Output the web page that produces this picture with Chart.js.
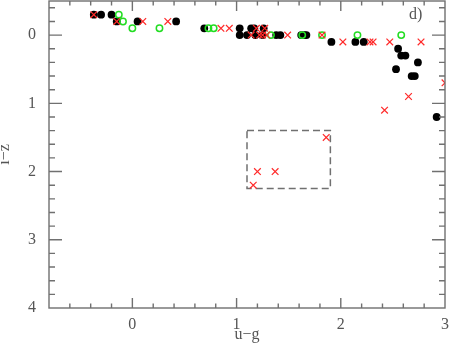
<!DOCTYPE html>
<html>
<head>
<meta charset="utf-8">
<script src="https://cdn.jsdelivr.net/npm/chart.js@4.4.0/dist/chart.umd.min.js"></script>
<style>
  html, body { margin: 0; padding: 0; background: #fff; }
  #wrap { width: 450px; height: 346px; position: relative; }
</style>
</head>
<body>
<div id="wrap"><canvas id="chart"></canvas></div>
<script>
// filled black circles
const blackX = [-0.37, -0.30, -0.20, -0.15, 0.05, 0.42, 0.69, 1.03, 1.14, 1.17, 1.26,
                1.03, 1.10, 1.18, 1.25, 1.38, 1.42, 1.62, 1.65, 1.67,
                1.91, 2.14, 2.22, 2.55, 2.58, 2.62, 2.74, 2.53, 2.68, 2.71, 2.92];
const blackY = [-0.3, -0.3, -0.3, -0.2, -0.2, -0.2, -0.1, -0.1, -0.1, -0.1, -0.1,
                0, 0, 0, 0, 0, 0, 0, 0, 0,
                0.1, 0.1, 0.1, 0.2, 0.3, 0.3, 0.4, 0.5, 0.6, 0.6, 1.2];
// open green circles
const greenX = [-0.13, -0.09, 0.0, 0.26, 0.73, 0.78, 1.33, 1.63, 1.82, 2.16, 2.58];
const greenY = [-0.3, -0.2, -0.1, -0.1, -0.1, -0.1, 0, 0, 0, 0, 0];
// red crosses
const redX = [-0.37, -0.15, 0.10, 0.34, 0.85, 0.93, 1.19, 1.27,
              1.14, 1.22, 1.25, 1.29, 1.49, 1.82,
              2.02, 2.28, 2.31, 2.47, 2.77, 3.0, 2.65, 2.42,
              1.86, 1.20, 1.37, 1.16];
const redY = [-0.3, -0.2, -0.2, -0.2, -0.1, -0.1, -0.1, -0.1,
              0, 0, 0, 0, 0, 0,
              0.1, 0.1, 0.1, 0.1, 0.1, 0.7, 0.9, 1.1,
              1.5, 2.0, 2.0, 2.2];
// dashed selection box corners
const boxX = [1.1, 1.9, 1.9, 1.1, 1.1];
const boxY = [1.4, 1.4, 2.25, 2.25, 1.4];

const xTickVals = [0, 1, 2, 3];
const yTickVals = [0, 1, 2, 3, 4];
const X_MIN = -0.8, X_MAX = 3, Y_MIN = -0.5, Y_MAX = 4;

const FONT = 'Liberation Serif';
const TXT = '#555';

const pts = (xs, ys) => xs.map((x, i) => ({ x: x, y: ys[i] }));
const noPad = s => { s.paddingTop = 0; s.paddingBottom = 0; s.paddingLeft = 0; s.paddingRight = 0; };

// box frame with inward major / minor ticks on all four sides
const framePlugin = {
  id: 'frame',
  afterDraw(chart) {
    const { ctx, chartArea: a, scales: { x, y } } = chart;
    ctx.save();
    ctx.strokeStyle = '#707070';
    ctx.lineWidth = 1.4;
    ctx.strokeRect(a.left, a.top, a.right - a.left, a.bottom - a.top);
    ctx.beginPath();
    for (let i = 1; ; i++) {
      const v = Math.round((X_MIN + i * 0.2) * 10) / 10;
      if (v >= X_MAX) break;
      const px = x.getPixelForValue(v);
      const len = Number.isInteger(v) ? 10 : 4.5;
      ctx.moveTo(px, a.bottom); ctx.lineTo(px, a.bottom - len);
      ctx.moveTo(px, a.top); ctx.lineTo(px, a.top + len);
    }
    for (let i = 0; ; i++) {
      const v = Math.round((-0.4 + i * 0.2) * 10) / 10;
      if (v >= Y_MAX) break;
      const py = y.getPixelForValue(v);
      const len = Number.isInteger(v) ? 13 : 6;
      ctx.moveTo(a.left, py); ctx.lineTo(a.left + len, py);
      ctx.moveTo(a.right, py); ctx.lineTo(a.right - len, py);
    }
    ctx.stroke();
    ctx.fillStyle = TXT;
    ctx.font = '16px "' + FONT + '"';
    ctx.textBaseline = 'alphabetic';
    ctx.fillText('d)', 409, 19);
    ctx.restore();
  }
};

new Chart(document.getElementById('chart'), {
  type: 'scatter',
  data: {
    datasets: [
      {
        label: 'red', data: pts(redX, redY), order: 0,
        pointStyle: 'crossRot', pointRadius: 4.7, borderColor: '#ff2a2a',
        backgroundColor: '#ff2a2a', pointBorderWidth: 1.2, clip: 0
      },
      {
        label: 'green', data: pts(greenX, greenY), order: 1,
        pointStyle: 'circle', pointRadius: 3.2, borderColor: '#22dd22',
        backgroundColor: 'rgba(0,0,0,0)', pointBorderWidth: 1.5, clip: 0
      },
      {
        label: 'black', data: pts(blackX, blackY), order: 2,
        pointStyle: 'circle', pointRadius: 3.9, borderColor: '#000',
        backgroundColor: '#000', pointBorderWidth: 0, clip: 0
      },
      {
        label: 'box', data: pts(boxX, boxY), order: 3, showLine: true,
        pointRadius: 0, borderColor: '#707070', borderWidth: 1.5,
        borderDash: [7, 4], fill: false, tension: 0
      }
    ]
  },
  options: {
    responsive: true,
    maintainAspectRatio: false,
    animation: false,
    devicePixelRatio: 1,
    layout: { autoPadding: false, padding: { top: 1, right: 5, left: 0, bottom: 0 } },
    plugins: { legend: { display: false }, tooltip: { enabled: false } },
    scales: {
      x: {
        type: 'linear', position: 'bottom', min: X_MIN, max: X_MAX,
        grid: { display: false, drawTicks: false },
        border: { display: false },
        afterBuildTicks: s => { s.ticks = xTickVals.map(v => ({ value: v })); },
        afterFit: s => { s.height = 38; noPad(s); },
        ticks: { font: { family: FONT, size: 16 }, color: TXT, padding: 7, maxRotation: 0, autoSkip: false },
        title: { display: true, text: 'u\u2212g', color: TXT, font: { family: FONT, size: 16 }, padding: { top: 0, bottom: 2 } }
      },
      y: {
        type: 'linear', reverse: true, min: Y_MIN, max: Y_MAX,
        grid: { display: false, drawTicks: false },
        border: { display: false },
        afterBuildTicks: s => { s.ticks = yTickVals.map(v => ({ value: v })); },
        afterFit: s => { s.width = 49; noPad(s); },
        ticks: { font: { family: FONT, size: 16 }, color: TXT, padding: 13, autoSkip: false },
        title: { display: true, text: 'i\u2212z', color: TXT, font: { family: FONT, size: 16, lineHeight: 0.6 }, padding: { top: 0, bottom: 0 } }
      }
    }
  },
  plugins: [framePlugin]
});
</script>
</body>
</html>
